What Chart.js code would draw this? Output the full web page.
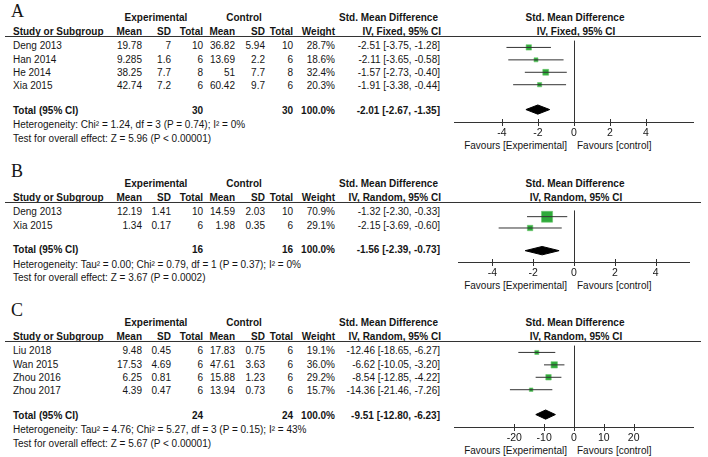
<!DOCTYPE html>
<html>
<head>
<meta charset="utf-8">
<script src="https://cdn.jsdelivr.net/npm/chart.js@4.4.0/dist/chart.umd.min.js"></script>
<style>
    body { margin: 0; width: 708px; height: 457px; background: #fff; position: relative; overflow: hidden;
           font-family: "Liberation Sans", Arial, sans-serif; font-size: 10px; color: #151515; }
    .t { position: absolute; white-space: nowrap; line-height: 12px; height: 12px; }
    .b { font-weight: bold; }
    .hl { position: absolute; height: 1px; background: #333; }
    .letter { font-family: "Liberation Serif", "Times New Roman", serif; font-size: 18px; line-height: 18px; height: 18px; }
    canvas { position: absolute; }
</style>
</head>
<body>
<script>
// ------------------------------------------------------------
// DATA - panel A (IV, Fixed)
// ------------------------------------------------------------
const aStudies = ["Deng 2013", "Han 2014", "He 2014", "Xia 2015"];
const aExpMean = [19.78, 9.285, 38.25, 42.74];
const aExpSD = [7, 1.6, 7.7, 7.2];
const aExpN = [10, 6, 8, 6];
const aCtlMean = [36.82, 13.69, 51, 60.42];
const aCtlSD = [5.94, 2.2, 7.7, 9.7];
const aCtlN = [10, 6, 8, 6];
const aWeight = [28.7, 18.6, 32.4, 20.3];
const aSmd = [-2.51, -2.11, -1.57, -1.91];
const aLo = [-3.75, -3.65, -2.73, -3.38];
const aHi = [-1.28, -0.58, -0.40, -0.44];
const aTotal = [-2.01, -2.67, -1.35];   // estimate, lower, upper
const aTotalN = [30, 30];
const aTicks = [-4, -2, 0, 2, 4];
const aHet = "Heterogeneity: Chi² = 1.24, df = 3 (P = 0.74); I² = 0%";
const aTest = "Test for overall effect: Z = 5.96 (P < 0.00001)";

// ------------------------------------------------------------
// DATA - panel B (IV, Random)
// ------------------------------------------------------------
const bStudies = ["Deng 2013", "Xia 2015"];
const bExpMean = [12.19, 1.34];
const bExpSD = [1.41, 0.17];
const bExpN = [10, 6];
const bCtlMean = [14.59, 1.98];
const bCtlSD = [2.03, 0.35];
const bCtlN = [10, 6];
const bWeight = [70.9, 29.1];
const bSmd = [-1.32, -2.15];
const bLo = [-2.30, -3.69];
const bHi = [-0.33, -0.60];
const bTotal = [-1.56, -2.39, -0.73];
const bTotalN = [16, 16];
const bTicks = [-4, -2, 0, 2, 4];
const bHet = "Heterogeneity: Tau² = 0.00; Chi² = 0.79, df = 1 (P = 0.37); I² = 0%";
const bTest = "Test for overall effect: Z = 3.67 (P = 0.0002)";

// ------------------------------------------------------------
// DATA - panel C (IV, Random)
// ------------------------------------------------------------
const cStudies = ["Liu 2018", "Wan 2015", "Zhou 2016", "Zhou 2017"];
const cExpMean = [9.48, 17.53, 6.25, 4.39];
const cExpSD = [0.45, 4.69, 0.81, 0.47];
const cExpN = [6, 6, 6, 6];
const cCtlMean = [17.83, 47.61, 15.88, 13.94];
const cCtlSD = [0.75, 3.63, 1.23, 0.73];
const cCtlN = [6, 6, 6, 6];
const cWeight = [19.1, 36.0, 29.2, 15.7];
const cSmd = [-12.46, -6.62, -8.54, -14.36];
const cLo = [-18.65, -10.05, -12.85, -21.46];
const cHi = [-6.27, -3.20, -4.22, -7.26];
const cTotal = [-9.51, -12.80, -6.23];
const cTotalN = [24, 24];
const cTicks = [-20, -10, 0, 10, 20];
const cHet = "Heterogeneity: Tau² = 4.76; Chi² = 5.27, df = 3 (P = 0.15); I² = 43%";
const cTest = "Test for overall effect: Z = 5.67 (P < 0.00001)";

// ------------------------------------------------------------
// LAYOUT
// ------------------------------------------------------------
const ROW_H = 13.2;     // px per row
const ROW_MIN = 0.45;   // y scale minimum (header line)
const PLOT_LEFT = 450;
const PLOT_W = 248;
const AXIS_H = 22;
const INK = "#333";
const GREEN = "#2eaa3a";

const panels = [
    { letter: "A", letterY: 10.5, line: 36, method: "IV, Fixed, 95% CI", range: 6.63, ticks: aTicks,
      studies: aStudies, expMean: aExpMean, expSD: aExpSD, expN: aExpN, ctlMean: aCtlMean, ctlSD: aCtlSD, ctlN: aCtlN,
      weight: aWeight, smd: aSmd, lo: aLo, hi: aHi, total: aTotal, totalN: aTotalN, het: aHet, test: aTest },
    { letter: "B", letterY: 171, line: 202, method: "IV, Random, 95% CI", range: 5.66, ticks: bTicks,
      studies: bStudies, expMean: bExpMean, expSD: bExpSD, expN: bExpN, ctlMean: bCtlMean, ctlSD: bCtlSD, ctlN: bCtlN,
      weight: bWeight, smd: bSmd, lo: bLo, hi: bHi, total: bTotal, totalN: bTotalN, het: bHet, test: bTest },
    { letter: "C", letterY: 310, line: 341, method: "IV, Random, 95% CI", range: 40, ticks: cTicks,
      studies: cStudies, expMean: cExpMean, expSD: cExpSD, expN: cExpN, ctlMean: cCtlMean, ctlSD: cCtlSD, ctlN: cCtlN,
      weight: cWeight, smd: cSmd, lo: cLo, hi: cHi, total: cTotal, totalN: cTotalN, het: cHet, test: cTest }
];

// ------------------------------------------------------------
// TEXT HELPERS
// ------------------------------------------------------------
function txt(text, x, yc, align, bold, cls) {
    const d = document.createElement("div");
    d.className = "t" + (bold ? " b" : "") + (cls ? " " + cls : "");
    d.textContent = text;
    const h = cls === "letter" ? 18 : 12;
    d.style.top = (yc - h / 2) + "px";
    if (align === "right") {
        d.style.left = (x - 300) + "px"; d.style.width = "300px"; d.style.textAlign = "right";
    } else if (align === "center") {
        d.style.left = (x - 150) + "px"; d.style.width = "300px"; d.style.textAlign = "center";
    } else {
        d.style.left = x + "px";
    }
    document.body.appendChild(d);
}

function ci(v) {
    return v[0].toFixed(2) + " [" + v[1].toFixed(2) + ", " + v[2].toFixed(2) + "]";
}

// column right edges
const COL = { name: 13, expMean: 142, expSD: 171, expN: 203, ctlMean: 235, ctlSD: 265, ctlN: 293, weight: 335, ci: 440 };

// ------------------------------------------------------------
// CROSSING TICK MARKS ON THE X AXIS
// ------------------------------------------------------------
const tickMarks = {
    id: "tickMarks",
    afterDraw(chart) {
        const s = chart.scales.x, ctx = chart.ctx, y = Math.round(chart.chartArea.bottom) + 0.5;
        ctx.save();
        ctx.strokeStyle = INK;
        ctx.lineWidth = 1;
        s.ticks.forEach(t => {
            const x = Math.round(s.getPixelForValue(t.value)) + 0.5;
            ctx.beginPath();
            ctx.moveTo(x, y - 3.5);
            ctx.lineTo(x, y + 3.5);
            ctx.stroke();
        });
        ctx.restore();
    }
};

Chart.defaults.font.family = '"Liberation Sans", Arial, sans-serif';
Chart.defaults.font.size = 10;
Chart.defaults.color = "#151515";

// ------------------------------------------------------------
// BUILD PANELS
// ------------------------------------------------------------
panels.forEach(p => {
    const L = p.line;
    const n = p.studies.length;

    // panel letter and headers
    txt(p.letter, 11, p.letterY, "left", false, "letter");
    txt("Experimental", 156, L - 18.5, "center", true);
    txt("Control", 244, L - 18.5, "center", true);
    txt("Std. Mean Difference", 438, L - 18.5, "right", true);
    txt("Std. Mean Difference", 575, L - 18.5, "center", true);

    const h2 = L - 3.7;
    txt("Study or Subgroup", COL.name, h2, "left", true);
    txt("Mean", COL.expMean, h2, "right", true);
    txt("SD", COL.expSD, h2, "right", true);
    txt("Total", COL.expN, h2, "right", true);
    txt("Mean", COL.ctlMean, h2, "right", true);
    txt("SD", COL.ctlSD, h2, "right", true);
    txt("Total", COL.ctlN, h2, "right", true);
    txt("Weight", COL.weight, h2, "right", true);
    txt(p.method, 441, h2, "right", true);
    txt(p.method, 576, h2, "center", true);

    const line = document.createElement("div");
    line.className = "hl";
    line.style.left = "5px"; line.style.width = "696px"; line.style.top = L + "px";
    document.body.appendChild(line);

    // study rows
    p.studies.forEach((s, i) => {
        const y = L + 10.3 + ROW_H * i;
        txt(s, COL.name, y, "left");
        txt(String(p.expMean[i]), COL.expMean, y, "right");
        txt(String(p.expSD[i]), COL.expSD, y, "right");
        txt(String(p.expN[i]), COL.expN, y, "right");
        txt(String(p.ctlMean[i]), COL.ctlMean, y, "right");
        txt(String(p.ctlSD[i]), COL.ctlSD, y, "right");
        txt(String(p.ctlN[i]), COL.ctlN, y, "right");
        txt(p.weight[i].toFixed(1) + "%", COL.weight, y, "right");
        txt(ci([p.smd[i], p.lo[i], p.hi[i]]), COL.ci, y, "right");
    });

    // total rows
    const ty = L + (n + 1.55) * ROW_H + 1.5;
    txt("Total (95% CI)", COL.name, ty, "left", true);
    txt(String(p.totalN[0]), COL.expN, ty, "right", true);
    txt(String(p.totalN[1]), COL.ctlN, ty, "right", true);
    txt("100.0%", COL.weight, ty, "right", true);
    txt(ci(p.total), COL.ci, ty, "right", true);
    txt(p.het, COL.name, ty + 14.5, "left");
    txt(p.test, COL.name, ty + 28, "left");

    // forest plot
    const areaH = (n + 3 - ROW_MIN) * ROW_H;
    const axisY = L + areaH;
    txt("Favours [Experimental]", 567, axisY + 23.5, "right");
    txt("Favours [control]", 577, axisY + 23.5, "left");

    const canvas = document.createElement("canvas");
    canvas.width = PLOT_W;
    canvas.height = Math.round(areaH) + AXIS_H;
    canvas.style.left = PLOT_LEFT + "px";
    canvas.style.top = L + "px";
    document.body.appendChild(canvas);

    const whiskers = p.smd.map((v, i) => ({
        data: [{ x: p.lo[i], y: i + 1 }, { x: p.hi[i], y: i + 1 }],
        borderColor: INK,
        borderWidth: 1,
        pointRadius: 0
    }));

    const squares = {
        data: p.smd.map((v, i) => ({ x: v, y: i + 1 })),
        showLine: false,
        pointStyle: "rect",
        pointRadius: p.weight.map(w => (1.5 + 0.135 * w) / Math.SQRT2),
        pointBackgroundColor: GREEN,
        pointBorderColor: "#6cc76f",
        pointBorderWidth: 0.6
    };

    const tRow = n + 2;
    const diamond = {
        data: [
            { x: p.total[1], y: tRow },
            { x: p.total[0], y: tRow - 0.37 },
            { x: p.total[2], y: tRow },
            { x: p.total[0], y: tRow + 0.37 },
            { x: p.total[1], y: tRow }
        ],
        fill: "shape",
        backgroundColor: "#000",
        borderColor: "#000",
        borderWidth: 1,
        pointRadius: 0,
        tension: 0
    };

    new Chart(canvas.getContext("2d"), {
        type: "line",
        data: { datasets: [...whiskers, squares, diamond] },
        options: {
            responsive: false,
            animation: false,
            layout: { padding: 0 },
            plugins: { legend: { display: false }, tooltip: { enabled: false } },
            scales: {
                x: {
                    type: "linear",
                    min: -p.range,
                    max: p.range,
                    afterBuildTicks: s => { s.ticks = p.ticks.map(v => ({ value: v })); },
                    afterFit: s => { s.height = AXIS_H; },
                    grid: {
                        color: c => (c.tick && c.tick.value === 0 ? INK : "transparent"),
                        drawTicks: false,
                        lineWidth: 1
                    },
                    border: { color: INK, width: 1 },
                    ticks: { color: "#151515", padding: 5, autoSkip: false, maxRotation: 0,
                             font: { size: 10.5 } }
                },
                y: {
                    type: "linear",
                    reverse: true,
                    min: ROW_MIN,
                    max: n + 3,
                    display: false
                }
            }
        },
        plugins: [tickMarks]
    });
});
</script>
</body>
</html>
